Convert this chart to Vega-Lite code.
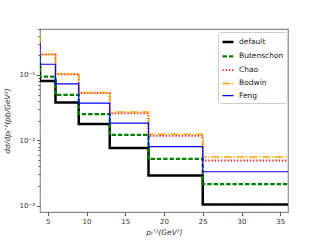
{
  "$schema": "https://vega.github.io/schema/vega-lite/v6.json",
  "width": 248,
  "height": 183,
  "autosize": {"type": "none"},
  "padding": {"left": 40, "top": 29, "right": 32, "bottom": 28},
  "background": "white",
  "config": {
    "font": "DejaVu Sans",
    "view": {"stroke": "#8c8c8c", "strokeWidth": 1.2},
    "axis": {"domain": false, "grid": false, "labelFont": "DejaVu Sans", "labelFontSize": 7, "labelColor": "#333", "tickColor": "#555", "titleFont": "DejaVu Sans", "titleFontSize": 7.5, "titleFontWeight": "normal", "titleFontStyle": "italic", "titleColor": "#333"}
  },
  "data": {
    "values": [
      {"model": "default", "i": 0, "x": 4, "y": 0.15},
      {"model": "default", "i": 1, "x": 4, "y": 0.081},
      {"model": "default", "i": 2, "x": 6, "y": 0.0378},
      {"model": "default", "i": 3, "x": 9, "y": 0.0177},
      {"model": "default", "i": 4, "x": 13, "y": 0.0076},
      {"model": "default", "i": 5, "x": 18, "y": 0.0029},
      {"model": "default", "i": 6, "x": 25, "y": 0.00104},
      {"model": "default", "i": 7, "x": 36, "y": 0.00104},
      {"model": "Butenschon", "i": 0, "x": 4, "y": 0.2},
      {"model": "Butenschon", "i": 1, "x": 4, "y": 0.094},
      {"model": "Butenschon", "i": 2, "x": 6, "y": 0.0495},
      {"model": "Butenschon", "i": 3, "x": 9, "y": 0.0251},
      {"model": "Butenschon", "i": 4, "x": 13, "y": 0.0121},
      {"model": "Butenschon", "i": 5, "x": 18, "y": 0.0052},
      {"model": "Butenschon", "i": 6, "x": 25, "y": 0.00214},
      {"model": "Butenschon", "i": 7, "x": 36, "y": 0.00214},
      {"model": "Chao", "i": 0, "x": 4, "y": 0.37},
      {"model": "Chao", "i": 1, "x": 4, "y": 0.204},
      {"model": "Chao", "i": 2, "x": 6, "y": 0.102},
      {"model": "Chao", "i": 3, "x": 9, "y": 0.0528},
      {"model": "Chao", "i": 4, "x": 13, "y": 0.0258},
      {"model": "Chao", "i": 5, "x": 18, "y": 0.0117},
      {"model": "Chao", "i": 6, "x": 25, "y": 0.0049},
      {"model": "Chao", "i": 7, "x": 36, "y": 0.0049},
      {"model": "Bodwin", "i": 0, "x": 4, "y": 0.39},
      {"model": "Bodwin", "i": 1, "x": 4, "y": 0.207},
      {"model": "Bodwin", "i": 2, "x": 6, "y": 0.1036},
      {"model": "Bodwin", "i": 3, "x": 9, "y": 0.0537},
      {"model": "Bodwin", "i": 4, "x": 13, "y": 0.027},
      {"model": "Bodwin", "i": 5, "x": 18, "y": 0.0124},
      {"model": "Bodwin", "i": 6, "x": 25, "y": 0.00554},
      {"model": "Bodwin", "i": 7, "x": 36, "y": 0.00554},
      {"model": "Feng", "i": 0, "x": 4, "y": 0.31},
      {"model": "Feng", "i": 1, "x": 4, "y": 0.1455},
      {"model": "Feng", "i": 2, "x": 6, "y": 0.0729},
      {"model": "Feng", "i": 3, "x": 9, "y": 0.037},
      {"model": "Feng", "i": 4, "x": 13, "y": 0.0183},
      {"model": "Feng", "i": 5, "x": 18, "y": 0.008},
      {"model": "Feng", "i": 6, "x": 25, "y": 0.0033},
      {"model": "Feng", "i": 7, "x": 36, "y": 0.0033}
    ]
  },
  "mark": {"type": "line", "interpolate": "step-after", "clip": true},
  "encoding": {
    "x": {
      "field": "x", "type": "quantitative",
      "scale": {"domain": [4, 36], "nice": false, "zero": false},
      "axis": {"values": [5, 10, 15, 20, 25, 30, 35], "tickSize": 3.5, "labelPadding": 2, "title": "pₜ'²(GeV²)", "titlePadding": 4}
    },
    "y": {
      "field": "y", "type": "quantitative",
      "scale": {"type": "log", "domain": [0.0008, 0.504], "nice": false},
      "axis": {
        "values": [0.001, 0.002, 0.003, 0.004, 0.005, 0.006, 0.007, 0.008, 0.009, 0.01, 0.02, 0.03, 0.04, 0.05, 0.06, 0.07, 0.08, 0.09, 0.1, 0.2, 0.3, 0.4, 0.5],
        "labelExpr": "datum.value == 0.1 ? '10⁻¹' : datum.value == 0.01 ? '10⁻²' : datum.value == 0.001 ? '10⁻³' : ''",
        "tickSize": {"condition": {"test": "datum.value == 0.1 || datum.value == 0.01 || datum.value == 0.001", "value": 3.5}, "value": 2},
        "labelPadding": 2,
        "title": "dσ/dpₜ'²(pb/GeV²)",
        "titlePadding": 8
      }
    },
    "order": {"field": "i", "type": "quantitative"},
    "color": {
      "field": "model", "type": "nominal",
      "scale": {"domain": ["default", "Butenschon", "Chao", "Bodwin", "Feng"], "range": ["#000000", "#008000", "#ff0000", "#ffa500", "#0000ff"]},
      "legend": {
        "title": null, "orient": "none", "legendX": 178, "legendY": 3,
        "symbolType": "stroke", "symbolSize": 120, "labelFontSize": 7.5, "labelColor": "#222",
        "rowPadding": 2.3, "padding": 3, "strokeColor": "#cccccc", "fillColor": "white", "cornerRadius": 2, "labelOffset": 4
      }
    },
    "strokeDash": {
      "field": "model", "type": "nominal",
      "scale": {"domain": ["default", "Butenschon", "Chao", "Bodwin", "Feng"], "range": [[1, 0], [4.4, 1.9], [1.2, 2], [7.7, 1.9, 1.2, 1.9], [1, 0]]}
    },
    "strokeWidth": {
      "field": "model", "type": "nominal",
      "scale": {"domain": ["default", "Butenschon", "Chao", "Bodwin", "Feng"], "range": [2.5, 1.2, 1.2, 1.2, 1.2]}
    }
  }
}
